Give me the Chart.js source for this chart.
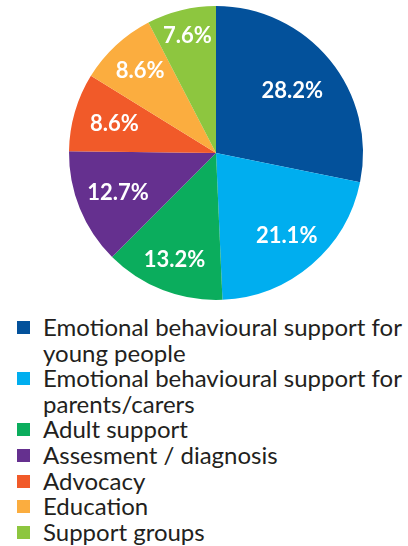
<!DOCTYPE html>
<html>
<head>
<meta charset="utf-8">
<script src="https://cdn.jsdelivr.net/npm/chart.js@4"></script>
<style>
  html, body { margin: 0; padding: 0; background: #fff; }
  body { width: 408px; height: 546px; position: relative; overflow: hidden; }
  #wrap { position: absolute; left: 0; top: 0; width: 408px; height: 306px; }
  #legend { position: absolute; left: 0; top: 314px; width: 408px; font-family: Lato, sans-serif; font-size: 24px; color: #231f20; white-space: nowrap; }
  .item { position: relative; padding-left: 43px; line-height: 25.6px; }
  .box { position: absolute; left: 17px; top: 7px; width: 13px; height: 13px; }
</style>
</head>
<body>
<div id="wrap"><canvas id="pieChart"></canvas></div>
<div id="legend"></div>
<script>
let categories = [
    ['Emotional behavioural support for', 'young people'],
    ['Emotional behavioural support for', 'parents/carers'],
    ['Adult support'],
    ['Assesment / diagnosis'],
    ['Advocacy'],
    ['Education'],
    ['Support groups']
];
let shares = [28.2, 21.1, 13.2, 12.7, 8.6, 8.6, 7.6];
let sliceColors = ['#03519b', '#00aeef', '#0bad5d', '#65308f', '#f15a29', '#fbad3f', '#8dc63f'];

// how far out each percentage sits, as a fraction of the radius
let labelDepth = [0.67, 0.74, 0.78, 0.72, 0.72, 0.76, 0.82];

let canvas = document.getElementById('pieChart');
let ctx = canvas.getContext('2d');

const percentLabels = {
    id: 'percentLabels',
    afterDatasetsDraw(chart) {
        let meta = chart.getDatasetMeta(0);
        let c = chart.ctx;
        c.save();
        c.fillStyle = '#ffffff';
        c.font = 'bold 22px Lato, sans-serif';
        c.textAlign = 'center';
        c.textBaseline = 'middle';
        meta.data.forEach((arc, i) => {
            let mid = (arc.startAngle + arc.endAngle) / 2;
            let r = arc.outerRadius * labelDepth[i];
            let x = arc.x + Math.cos(mid) * r;
            let y = arc.y + Math.sin(mid) * r;
            c.fillText(shares[i].toFixed(1) + '%', x, y);
        });
        c.restore();
    }
};

let pie = new Chart(ctx, {
    type: 'pie',
    data: {
        labels: categories.map(l => l.join(' ')),
        datasets: [{
            data: shares,
            backgroundColor: sliceColors,
            borderWidth: 0
        }]
    },
    options: {
        responsive: true,
        maintainAspectRatio: false,
        animation: false,
        layout: { padding: { left: 30, right: 6, top: 6, bottom: 6 } },
        plugins: {
            legend: { display: false },
            tooltip: { enabled: false }
        }
    },
    plugins: [percentLabels]
});

// legend built from the same arrays
let legend = document.getElementById('legend');
categories.forEach((lines, i) => {
    let item = document.createElement('div');
    item.className = 'item';
    let box = document.createElement('span');
    box.className = 'box';
    box.style.background = sliceColors[i];
    item.appendChild(box);
    lines.forEach((t, j) => {
        if (j > 0) item.appendChild(document.createElement('br'));
        item.appendChild(document.createTextNode(t));
    });
    legend.appendChild(item);
});
</script>
</body>
</html>
